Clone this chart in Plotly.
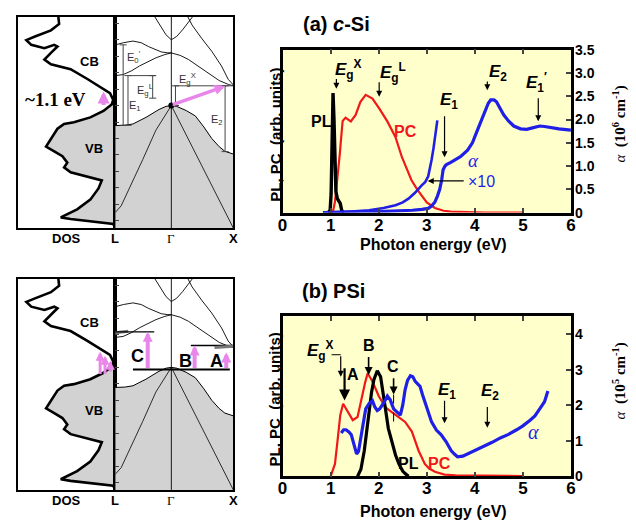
import plotly.graph_objects as go

W, H = 636, 527
def fx(p): return p / W
def fy(p): return 1 - p / H

NARROW = "Liberation Sans, Arial, sans-serif"
SANS = "Liberation Sans, Arial, sans-serif"
SERIF = "Liberation Serif, Times New Roman, serif"
BLUE = "#1f1fe6"; RED = "#f01818"; PINK = "#e986e9"; YELLOW = "#ffffcc"; GRAY = "#d2d2d2"

# ---------------- spectra data (a) c-Si ----------------
pl_a_x = [0.95, 0.99, 1.01, 1.03, 1.05, 1.07, 1.09, 1.11, 1.14, 1.17, 1.20, 1.23, 1.27]
pl_a_y = [0.0, 0.05, 0.4, 1.5, 2.57, 2.0, 1.0, 0.45, 0.3, 0.25, 0.2, 0.05, 0.0]
pc_a_x = [1.0, 1.05, 1.09, 1.12, 1.15, 1.19, 1.22, 1.25, 1.31, 1.37, 1.42, 1.52, 1.62, 1.73, 1.87,
          2.01, 2.18, 2.35, 2.48, 2.6, 2.68, 2.8, 2.89, 3.0, 3.17, 3.35, 3.5, 3.8, 4.2, 4.6, 5.0]
pc_a_y = [0.0, 0.03, 0.23, 0.5, 0.78, 1.25, 1.62, 1.97, 2.04, 2.0, 1.96, 2.1, 2.38, 2.53, 2.45,
          2.24, 1.96, 1.62, 1.2, 0.9, 0.7, 0.5, 0.37, 0.22, 0.1, 0.04, 0.02, 0.01, 0.0, 0.0, 0.0]
al_a_x = [0.84, 1.2, 1.6, 2.0, 2.4, 2.7, 2.9, 3.03, 3.1, 3.17, 3.22, 3.27, 3.31, 3.34, 3.38, 3.41,
          3.5, 3.58, 3.7, 3.85, 3.95, 4.05, 4.15, 4.22, 4.28, 4.33, 4.4, 4.45, 4.52, 4.6, 4.7, 4.81,
          4.95, 5.08, 5.2, 5.35, 5.45, 5.56, 5.75, 6.0]
al_a_y = [0.0, 0.0, 0.01, 0.02, 0.03, 0.05, 0.07, 0.09, 0.14, 0.23, 0.35, 0.5, 0.7, 0.92, 1.0, 1.03,
          1.08, 1.13, 1.2, 1.34, 1.5, 1.76, 2.0, 2.17, 2.35, 2.42, 2.42, 2.38, 2.25, 2.1, 1.97, 1.86,
          1.8, 1.79, 1.82, 1.86, 1.85, 1.83, 1.8, 1.77]
al10_a_x = [0.84, 1.2, 1.5, 1.8, 2.1, 2.35, 2.5, 2.62, 2.75, 2.89, 2.97, 3.03, 3.07, 3.1, 3.14, 3.17, 3.2, 3.22]
al10_a_y = [0.0, 0.01, 0.03, 0.05, 0.1, 0.16, 0.22, 0.3, 0.42, 0.58, 0.66, 0.78, 0.95, 1.13, 1.38, 1.62, 1.82, 1.98]

# ---------------- spectra data (b) PSi ----------------
pc_b_x = [1.0, 1.09, 1.15, 1.2, 1.26, 1.32, 1.4, 1.46, 1.56, 1.66, 1.72, 1.77, 1.87, 2.0, 2.14, 2.28,
          2.42, 2.55, 2.69, 2.76, 2.83, 2.96, 3.05, 3.17, 3.37, 3.6, 4.0, 4.5, 5.0]
pc_b_y = [0.0, 0.35, 1.08, 1.72, 2.04, 1.9, 1.7, 1.58, 1.67, 2.35, 2.65, 2.9, 2.67, 2.26, 1.94, 1.8,
          1.67, 1.53, 1.26, 1.0, 0.72, 0.35, 0.22, 0.13, 0.05, 0.03, 0.02, 0.01, 0.01]
pl_b_x = [1.56, 1.63, 1.7, 1.75, 1.8, 1.85, 1.9, 1.97, 2.04, 2.09, 2.14, 2.2, 2.28, 2.35, 2.42, 2.5, 2.55, 2.62]
pl_b_y = [0.0, 0.2, 0.72, 1.25, 1.9, 2.35, 2.72, 2.97, 2.8, 2.4, 1.9, 1.35, 0.9, 0.6, 0.35, 0.15, 0.08, 0.0]
al_b_x = [1.22, 1.27, 1.32, 1.38, 1.43, 1.49, 1.54, 1.58, 1.63, 1.68, 1.73, 1.8, 1.87, 1.92, 1.97, 2.02,
          2.07, 2.12, 2.18, 2.24, 2.31, 2.38, 2.45, 2.5, 2.55, 2.6, 2.66, 2.71, 2.76, 2.81, 2.86, 2.91,
          2.96, 3.03, 3.1, 3.2, 3.3, 3.4, 3.51, 3.58, 3.64, 3.75, 3.85, 4.0, 4.19, 4.35, 4.53, 4.7,
          4.87, 5.0, 5.15, 5.25, 5.35, 5.45, 5.52]
al_b_y = [1.22, 1.31, 1.31, 1.25, 1.17, 0.9, 0.63, 0.7, 1.08, 1.5, 1.9, 2.05, 2.13, 1.95, 1.85, 1.9,
          1.99, 2.1, 2.26, 2.15, 1.9, 1.8, 1.72, 2.0, 2.44, 2.7, 2.83, 2.8, 2.67, 2.6, 2.53, 2.3,
          2.08, 1.8, 1.53, 1.3, 1.17, 0.98, 0.72, 0.62, 0.55, 0.57, 0.63, 0.72, 0.85, 0.95, 1.08, 1.18,
          1.31, 1.42, 1.58, 1.7, 1.9, 2.1, 2.4]

x_ticks = [0, 1, 2, 3, 4, 5, 6]
ya_ticks = [0, 0.5, 1.0, 1.5, 2.0, 2.5, 3.0, 3.5]
ya_text = ["0", "0.5", "1.0", "1.5", "2.0", "2.5", "3.0", "3.5"]
yb_ticks = [0, 1, 2, 3, 4]

# ---------------- density of states (E in eV, DOS arbitrary, 0 at right edge) ----------------
dos_cb_E = [5.6, 5.35, 4.96, 4.57, 4.18, 3.98, 3.69, 3.49, 3.69, 3.59, 3.2, 2.8, 2.51, 2.21, 1.63, 1.14, 0.75, 0.35, 0.06]
dos_cb_D = [0.58, 0.583, 0.576, 0.66, 0.83, 0.912, 0.862, 0.727, 0.626, 0.593, 0.66, 0.727, 0.66, 0.458, 0.29, 0.155, 0.054, 0.02, 0.037]
dos_vb_E = [0.06, -0.33, -0.72, -1.02, -1.12, -1.41, -2.0, -2.49, -2.78, -3.08, -3.47, -3.76, -4.06, -4.35,
            -4.55, -5.04, -5.72, -6.31, -6.71, -6.8, -6.9, -7.1, -7.2, -7.45]
dos_vb_D = [0.037, 0.121, 0.256, 0.424, 0.525, 0.593, 0.66, 0.71, 0.626, 0.542, 0.492, 0.525, 0.458, 0.256,
            0.138, 0.172, 0.256, 0.391, 0.525, 0.559, 0.458, 0.189, 0.02, 0.0]

# ---------------- band structure (k: L=0, Gamma=0.475, X=1) ----------------
k_gamma = 0.475
vb_top_k = [0, 0.08, 0.15, 0.26, 0.37, 0.43, 0.475, 0.52, 0.6, 0.678, 0.75, 0.817, 0.88, 0.928, 1.0]
vb_top_E = [-1.22, -1.2, -1.12, -0.72, -0.24, -0.05, 0, -0.05, -0.3, -0.63, -1.3, -2.0, -2.5, -2.78, -2.95]
vb_l_k = [0.475, 0.41, 0.344, 0.233, 0.122, 0.05, 0.0]
vb_l_E = [0, -0.75, -1.5, -3.28, -5.04, -6.1, -6.5]
vb_x_k = [0.475, 1.0]
vb_x_E = [0, -7.45]
cb_bands = [
    ([0.475, 0.55, 0.62, 0.678, 0.75, 0.817, 0.88, 0.956, 1.0], [3.2, 3.05, 2.8, 2.51, 2.15, 1.82, 1.52, 1.29, 1.2]),
    ([0.475, 0.42, 0.344, 0.27, 0.206, 0.14, 0.067, 0.0], [3.2, 3.1, 2.9, 2.65, 2.41, 2.12, 1.88, 1.82]),
    ([0.0, 0.07, 0.15, 0.22, 0.28, 0.34, 0.39, 0.44, 0.475], [3.69, 3.82, 3.92, 3.82, 3.59, 3.4, 3.26, 3.21, 3.2]),
    ([0.33, 0.38, 0.43, 0.475, 0.52, 0.57, 0.62, 0.66], [5.45, 4.9, 4.3, 4.0, 4.2, 4.6, 5.1, 5.45]),
    ([0.6, 0.65, 0.73, 0.817, 0.9, 0.956, 1.0], [5.6, 4.9, 4.1, 3.3, 2.4, 1.6, 1.25]),
]
E_RANGE = [-7.45, 5.4]

fig = go.Figure()

def line(x, y, xa, ya, color="black", width=1.0, **kw):
    fig.add_trace(go.Scatter(x=x, y=y, xaxis=xa, yaxis=ya, mode="lines",
                             line=dict(color=color, width=width), showlegend=False,
                             hoverinfo="skip", **kw))

for dx, dy, bx, by in [("x", "y", "x2", "y2"), ("x5", "y5", "x6", "y6")]:
    fig.add_trace(go.Scatter(x=dos_vb_D + [0.0, 0.0], y=dos_vb_E + [-7.45, 0.06], xaxis=dx, yaxis=dy,
                             mode="lines", fill="toself", fillcolor=GRAY, line=dict(width=0),
                             showlegend=False, hoverinfo="skip"))
    line(dos_cb_D + dos_vb_D, dos_cb_E + dos_vb_E, dx, dy, width=2.6)
    fig.add_trace(go.Scatter(x=vb_top_k + [1.0, 0.0], y=vb_top_E + [-7.45, -7.45], xaxis=bx, yaxis=by,
                             mode="lines", fill="toself", fillcolor=GRAY, line=dict(width=0),
                             showlegend=False, hoverinfo="skip"))
    line(vb_top_k, vb_top_E, bx, by, width=1.0)
    line(vb_l_k, vb_l_E, bx, by, width=0.8)
    line(vb_x_k, vb_x_E, bx, by, width=0.8)
    for kk, ee in cb_bands:
        line(kk, ee, bx, by, width=0.9)
    line([k_gamma, k_gamma], E_RANGE, bx, by, width=0.9)

fig.add_trace(go.Scatter(x=[k_gamma], y=[0.0], xaxis="x2", yaxis="y2", mode="markers",
                         marker=dict(color="black", size=6), showlegend=False, hoverinfo="skip"))

line([0.0, 0.11], [2.1, 2.2], "x6", "y6", color="#777", width=3)
line([0.0, 0.33], [2.16, 2.16], "x6", "y6", width=1.4)
line([0.15, 0.97], [-0.13, -0.13], "x6", "y6", width=2)
line([0.64, 1.0], [1.33, 1.33], "x6", "y6", width=1.4)
line([0.84, 1.0], [1.2, 1.28], "x6", "y6", color="#777", width=3)

line(pc_a_x, pc_a_y, "x3", "y3", color=RED, width=2.2)
line(pl_a_x, pl_a_y, "x3", "y3", color="black", width=3.4)
line(al10_a_x, al10_a_y, "x3", "y4", color=BLUE, width=2.6)
line(al_a_x, al_a_y, "x3", "y4", color=BLUE, width=3.2)

line(pc_b_x, pc_b_y, "x7", "y7", color=RED, width=2.2)
line(pl_b_x, pl_b_y, "x7", "y7", color="black", width=3.2)
line(al_b_x, al_b_y, "x7", "y8", color=BLUE, width=3.2)

def box(domain, rng, anchor, **kw):
    d = dict(domain=domain, range=rng, anchor=anchor, showline=True, linecolor="black", linewidth=1.6,
             mirror=True, showgrid=False, zeroline=False, showticklabels=False, ticks="")
    d.update(kw)
    return d

dos_x = [fx(13), fx(112)]
band_x = [fx(112), fx(232)]
spec_x = [fx(282), fx(575)]
top_left_y = [fy(227), fy(9)]
bot_left_y = [fy(497), fy(279)]
top_spec_y = [fy(211), fy(43)]
bot_spec_y = [fy(483), fy(318)]

tickfont_x = dict(family=NARROW, size=17, color="black", weight="bold")
tickfont_y = dict(family=NARROW, size=14, color="black", weight="bold")

def spec_x_axis(dom_y_anchor):
    return dict(domain=spec_x, range=[0, 6], anchor=dom_y_anchor, showline=True, linecolor="black",
                linewidth=2.5, mirror="ticks", ticks="inside", ticklen=5, tickwidth=1.5,
                tickvals=x_ticks, tickfont=tickfont_x, showgrid=False, zeroline=False,
                ticklabelstandoff=-5)

fig.update_layout(
    width=W, height=H, margin=dict(l=0, r=0, t=0, b=0),
    paper_bgcolor="white", plot_bgcolor=YELLOW, showlegend=False,
    xaxis=box(dos_x, [1.0, 0.0], "y"),
    yaxis=box(top_left_y, E_RANGE, "x"),
    xaxis2=box(band_x, [0, 1], "y2"),
    yaxis2=box(top_left_y, E_RANGE, "x2", ticks="inside", tick0=0, dtick=1, ticklen=4, tickwidth=1),
    xaxis5=box(dos_x, [1.0, 0.0], "y5"),
    yaxis5=box(bot_left_y, E_RANGE, "x5"),
    xaxis6=box(band_x, [0, 1], "y6"),
    yaxis6=box(bot_left_y, E_RANGE, "x6", ticks="inside", tick0=0, dtick=1, ticklen=4, tickwidth=1),
    xaxis3=spec_x_axis("y3"),
    yaxis3=dict(domain=top_spec_y, range=[0, 3.5], anchor="x3", showline=True, linecolor="black",
                linewidth=2.5, mirror=True, showticklabels=False, ticks="", showgrid=False, zeroline=False),
    yaxis4=dict(range=[0, 3.5], overlaying="y3", anchor="x3", side="right", ticks="inside", ticklen=5,
                tickwidth=1.5, tickvals=ya_ticks, ticktext=ya_text, tickfont=tickfont_y,
                showgrid=False, zeroline=False, showline=False, ticklabelstandoff=3),
    xaxis7=spec_x_axis("y7"),
    yaxis7=dict(domain=bot_spec_y, range=[0, 4.5], anchor="x7", showline=True, linecolor="black",
                linewidth=2.5, mirror=True, showticklabels=False, ticks="", showgrid=False, zeroline=False),
    yaxis8=dict(range=[0, 4.5], overlaying="y7", anchor="x7", side="right", ticks="inside", ticklen=5,
                tickwidth=1.5, tickvals=yb_ticks, tickfont=tickfont_y,
                showgrid=False, zeroline=False, showline=False, ticklabelstandoff=3),
)

for xr, yr in [(dos_x, top_left_y), (band_x, top_left_y), (dos_x, bot_left_y), (band_x, bot_left_y)]:
    fig.add_shape(type="rect", xref="paper", yref="paper", x0=xr[0], x1=xr[1], y0=yr[0], y1=yr[1],
                  fillcolor="white", line=dict(width=0), layer="below")

anns = []
def text(x, y, s, xref="paper", yref="paper", size=14, family=NARROW, color="black", angle=0, **kw):
    anns.append(dict(x=x, y=y, xref=xref, yref=yref, text=s, showarrow=False,
                     xanchor="center", yanchor="middle",
                     font=dict(family=family, size=size, color=color), textangle=angle, **kw))

def arrow(x, y, ax, ay, xref, yref, color="black", width=1.2, head=2, size=1.0):
    anns.append(dict(x=x, y=y, ax=ax, ay=ay, xref=xref, yref=yref, axref=xref, ayref=yref, text="",
                     showarrow=True, arrowhead=head, arrowsize=size, arrowwidth=width, arrowcolor=color))

text(fx(337), fy(17), "<b>(a) <i>c</i>-Si</b>", size=20)
text(fx(334), fy(292), "<b>(b) PSi</b>", size=20)
for yy in (244, 519):
    text(fx(435), fy(yy), "<b>Photon energy (eV)</b>", size=16)
text(fx(274), fy(131), "<b>PL, PC  (arb. units)</b>", size=15, angle=-90)
text(fx(274), fy(404), "<b>PL, PC  (arb. units)</b>", size=15, angle=-90)
text(fx(624), fy(120), "<i>α</i>  <b>(10<sup>6</sup> cm<sup>-1</sup>)</b>", size=15, family=SERIF, angle=-90)
text(fx(624), fy(385), "<i>α</i>  <b>(10<sup>5</sup> cm<sup>-1</sup>)</b>", size=15, family=SERIF, angle=-90)

for yy in (238, 508):
    text(fx(62), fy(yy), "<b>DOS</b>", size=13, family=SANS)
    text(fx(112), fy(yy), "<b>L</b>", size=13, family=SANS)
    text(fx(169), fy(yy), "Γ", size=13, family=SERIF)
    text(fx(232), fy(yy), "<b>X</b>", size=13, family=SANS)

for xa, ya in [("x", "y"), ("x5", "y5")]:
    text(0.26, 2.7, "<b>CB</b>", xa, ya, size=13, family=SANS)
    text(0.22, -2.6, "<b>VB</b>", xa, ya, size=13, family=SANS)
text(0.61, 0.35, "<b>~1.1 eV</b>", "x", "y", size=19, family=SERIF)
arrow(0.12, 0.85, 0.12, -0.05, "x", "y", color=PINK, width=4, head=2, size=0.6)
for d, e0, e1 in [(0.155, -0.5, 0.95), (0.105, -0.5, 0.7), (0.05, -0.35, 0.4)]:
    arrow(d, e1, d, e0, "x5", "y5", color=PINK, width=3, head=2, size=0.6)

BR = "#444"
def seg(x0, y0, x1, y1, xr, yr, color=BR, width=1, dash="solid"):
    fig.add_shape(type="line", xref=xr, yref=yr, x0=x0, y0=y0, x1=x1, y1=y1,
                  line=dict(color=color, width=width, dash=dash))
brackets = [(0.067, 3.69, -1.2), (0.108, 1.82, -1.2), (0.317, 1.82, 0.45), (0.93, 1.2, -2.8), (0.51, 1.2, 0.0)]
for kk, et, eb in brackets:
    seg(kk, et, kk, eb, "x2", "y2")
    seg(kk - 0.03, et, kk + 0.03, et, "x2", "y2")
    seg(kk - 0.03, eb, kk + 0.03, eb, "x2", "y2")
seg(0.12, 1.82, 0.34, 1.82, "x2", "y2")
seg(0.5, 1.2, 1.0, 1.2, "x2", "y2")
text(0.16, 2.95, "E<sub>0</sub><sup>′</sup>", "x2", "y2", size=11, family=SANS, color="#333")
text(0.17, -0.05, "E<sub>1</sub>", "x2", "y2", size=11, family=SANS, color="#333")
text(0.255, 0.95, "E<sub>g</sub><sup>L</sup>", "x2", "y2", size=11, family=SANS, color="#333")
text(0.61, 1.6, "E<sub>g</sub><sup>X</sup>", "x2", "y2", size=11, family=SANS, color="#333")
text(0.86, -0.9, "E<sub>2</sub>", "x2", "y2", size=11, family=SANS, color="#333")
arrow(0.93, 1.18, k_gamma, 0.02, "x2", "y2", color=PINK, width=3.5, head=2, size=0.6)

for kk, et in [(0.275, 2.16), (0.672, 1.33), (0.94, 0.9)]:
    arrow(kk, et, kk, -0.13, "x6", "y6", color=PINK, width=4, head=2, size=0.5)
text(0.19, 0.69, "<b>C</b>", "x6", "y6", size=18)
text(0.594, 0.39, "<b>B</b>", "x6", "y6", size=18)
text(0.858, 0.39, "<b>A</b>", "x6", "y6", size=18)

def elabel(x, y, base, sub, sup, xr, yr, size=17):
    s = "<b><i>%s</i></b><sub><b>%s</b></sub>" % (base, sub)
    if sup:
        s += "<sup><b>%s</b></sup>" % sup
    text(x, y, s, xr, yr, size=size)

elabel(1.37, 3.08, "E", "g", "X", "x3", "y3")
arrow(1.12, 2.66, 1.12, 2.9, "x3", "y3")
elabel(2.3, 3.0, "E", "g", "L", "x3", "y3")
arrow(2.01, 2.49, 2.01, 2.83, "x3", "y3")
elabel(3.46, 2.4, "E", "1", None, "x3", "y3")
arrow(3.37, 1.19, 3.37, 2.1, "x3", "y3")
elabel(4.48, 3.0, "E", "2", None, "x3", "y3")
arrow(4.26, 2.63, 4.26, 2.85, "x3", "y3")
elabel(5.28, 2.8, "E", "1", "′", "x3", "y3")
arrow(5.32, 1.96, 5.32, 2.49, "x3", "y3")
text(0.81, 1.96, "<b>PL</b>", "x3", "y3", size=16)
text(2.55, 1.75, "<b>PC</b>", "x3", "y3", size=16, color=RED)
text(3.98, 1.13, "<i>α</i>", "x3", "y3", size=19, family=SERIF, color=BLUE)
text(4.13, 0.66, "×10", "x3", "y3", size=16, family=SANS, color=BLUE)
arrow(3.02, 0.68, 3.8, 0.68, "x3", "y3")

elabel(0.78, 3.53, "E", "g", "X", "x7", "y7")
seg(1.02, 3.42, 1.21, 3.42, "x7", "y7", color="black", width=1)
arrow(1.21, 2.8, 1.21, 3.42, "x7", "y7")
arrow(1.29, 2.13, 1.29, 3.08, "x7", "y7", width=2.2)
text(1.47, 2.86, "<b>A</b>", "x7", "y7", size=16)
text(1.79, 3.67, "<b>B</b>", "x7", "y7", size=16)
arrow(1.79, 2.85, 1.79, 3.4, "x7", "y7", width=1.6)
text(2.29, 3.08, "<b>C</b>", "x7", "y7", size=16)
arrow(2.31, 2.3, 2.31, 2.8, "x7", "y7", width=1.6)
seg(2.31, 2.3, 2.31, 1.53, "x7", "y7", color="black", width=1, dash="dash")
elabel(3.43, 2.4, "E", "1", None, "x7", "y7")
arrow(3.37, 1.49, 3.37, 2.17, "x7", "y7")
elabel(4.31, 2.37, "E", "2", None, "x7", "y7")
arrow(4.26, 1.37, 4.26, 1.99, "x7", "y7")
text(2.62, 0.35, "<b>PL</b>", "x7", "y7", size=16)
text(3.27, 0.35, "<b>PC</b>", "x7", "y7", size=16, color=RED)
text(5.22, 1.25, "<i>α</i>", "x7", "y7", size=20, family=SERIF, color=BLUE)

fig.update_layout(annotations=anns)
fig.write_html("out.html")
